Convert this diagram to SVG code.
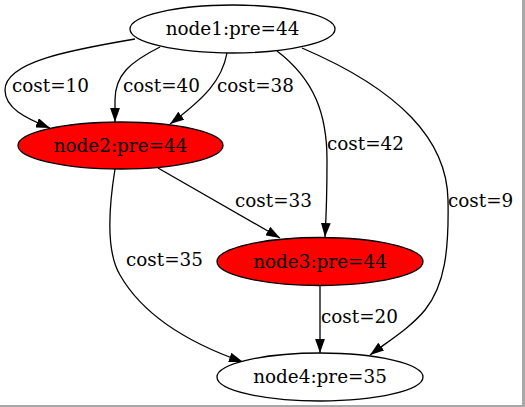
<svg xmlns="http://www.w3.org/2000/svg" width="525" height="407" viewBox="0 0 525 407">
<style>
text{font-family:"DejaVu Serif","Liberation Serif",serif;font-size:18.4px;fill:#000}
.n{text-anchor:middle}
.e path{fill:none;stroke:#000;stroke-width:1.3;marker-end:url(#arr)}
ellipse{stroke:#000;stroke-width:1.3}
.w{fill:#fff}
.r{fill:#ff0000}
</style>
<defs>
<marker id="arr" markerUnits="userSpaceOnUse" viewBox="0 0 10 7" refX="10" refY="3.5" markerWidth="14" markerHeight="9.8" orient="auto">
<path d="M0,0 L10,3.5 L0,7 z" fill="#000"/>
</marker>
</defs>
<rect x="0" y="0" width="525" height="407" fill="#fff"/>
<rect x="522" y="0" width="3" height="407" fill="#a8a8a8"/>
<rect x="0" y="405" width="525" height="2" fill="#a8a8a8"/>
<g id="connectors" class="e">
<path d="M135,39 C70,50 5,62 5,90 C5,108 25,118 50,128"/>
<path d="M160,47 C130,62 115,75 115,100 L115,122"/>
<path d="M227,53 C222,80 205,98 170,124"/>
<path d="M277,51 C315,80 327,115 327,160 C327,200 326,220 325,237"/>
<path d="M302,48 C400,90 447,140 448,200 C449,250 445,285 425,310 C410,328 390,340 370,355"/>
<path d="M158,168 L280,238"/>
<path d="M115,169 C110,200 105,250 120,275 C140,310 180,340 243,362"/>
<path d="M320,286 L320,353"/>
<text x="12" y="92">cost=10</text>
<text x="123" y="92">cost=40</text>
<text x="217" y="92">cost=38</text>
<text x="327" y="150">cost=42</text>
<text x="448" y="207">cost=9</text>
<text x="235" y="207">cost=33</text>
<text x="126" y="266">cost=35</text>
<text x="321" y="323">cost=20</text>
</g>
<g id="node1"><ellipse class="w" cx="232.5" cy="29" rx="102.5" ry="24"/><text class="n" x="232.5" y="35">node1:pre=44</text></g>
<g id="node2"><ellipse class="r" cx="120.5" cy="145.5" rx="102.5" ry="23.5"/><text class="n" x="120.5" y="151.5">node2:pre=44</text></g>
<g id="node3"><ellipse class="r" cx="320" cy="261.5" rx="103" ry="24"/><text class="n" x="320" y="267.5">node3:pre=44</text></g>
<g id="node4"><ellipse class="w" cx="320" cy="377" rx="103" ry="24"/><text class="n" x="320" y="383">node4:pre=35</text></g>
</svg>
